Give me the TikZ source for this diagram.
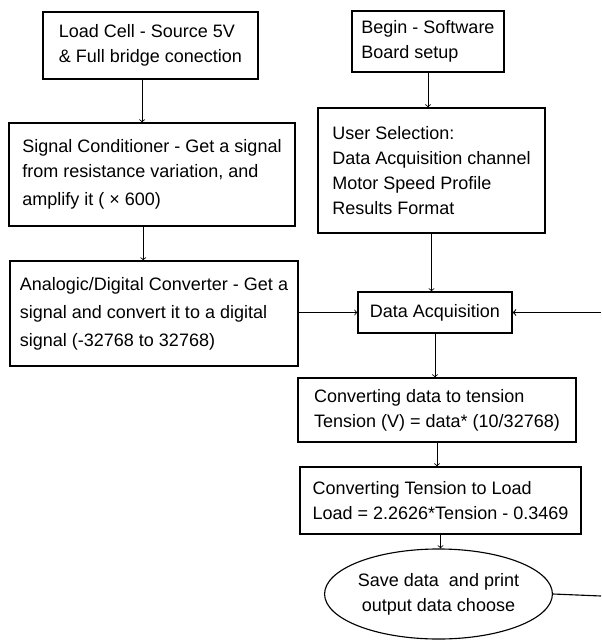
\documentclass[tikz,border=0pt]{standalone}
\usepackage{fontspec}
\setmainfont{Liberation Sans}
\usetikzlibrary{arrows,shapes.geometric}

\begin{document}
\begin{tikzpicture}[x=0.025cm, y=-0.025cm, >=to,
    font=\fontsize{12.8}{17.8}\selectfont,
    box/.style={draw, thick, align=left, inner sep=0pt},
    link/.style={->, semithick}]
      \useasboundingbox (0,0) rectangle (601,640);

      \node[box, minimum width=5.375cm, minimum height=1.675cm] (load) at (150.5,45.5)
        {Load Cell - Source 5V\\ \& Full bridge conection};
      \node[box, minimum width=7.15cm, minimum height=2.575cm] (cond) at (152,174.5)
        {Signal Conditioner - Get a signal\\ from resistance variation, and\\[2pt] amplify it ( × 600)};
      \node[box, minimum width=7.2cm, minimum height=2.625cm] (adc) at (154,313.5)
        {Analogic/Digital Converter - Get a\\[2pt] signal and convert it to a digital\\[2pt] signal (-32768 to 32768)};

      \node[box, minimum width=3.8cm, minimum height=1.525cm] (begin) at (428,41.5)
        {Begin - Software\\ Board setup\hspace{1.2em}};
      \node[box, minimum width=5.675cm, minimum height=3.125cm] (user) at (431.5,170.5)
        {User Selection:\\ Data Acquisition channel\\ Motor Speed Profile\\ Results Format};
      \node[box, minimum width=3.85cm, minimum height=1.025cm] (acq) at (435,312.5)
        {Data Acquisition};
      \node[box, minimum width=6.95cm, minimum height=1.6cm] (tension) at (437,410)
        {Converting data to tension\\ Tension (V) = data* (10/32768)};
      \node[box, minimum width=7.025cm, minimum height=1.675cm] (conv) at (440.5,500.5)
        {Converting Tension to Load\\ Load = 2.2626*Tension - 0.3469};
      \node[box, ellipse, align=center, minimum width=5.075cm, minimum height=2.25cm] (save) at (438.5,594)
        {Save data~ and print\\ output data choose};

      \coordinate (rin) at (601,312.5);
      \coordinate (rout) at (601,596);

      \draw[link] ([xshift=-0.21cm]load.south) -- ([xshift=-0.21cm]load.south |- cond.north);
      \draw[link] ([xshift=-0.22cm]cond.south) -- ([xshift=-0.22cm]cond.south |- adc.north);
      \draw[link] (adc.east |- acq.west) -- (acq.west);

      \draw[link] (begin.south) -- (begin.south |- user.north);
      \draw[link] (user.south) -- (user.south |- acq.north);
      \draw[link] (acq.south) -- (acq.south |- tension.north);
      \draw[link] (tension.south) -- (tension.south |- conv.north);
      \draw[link] (conv.south) -- (conv.south |- save.north);

      \draw[link, thick] (rin) -- (acq.east);
      \draw[thick] (save.east) -- (rout);
    \end{tikzpicture}
\end{document}
